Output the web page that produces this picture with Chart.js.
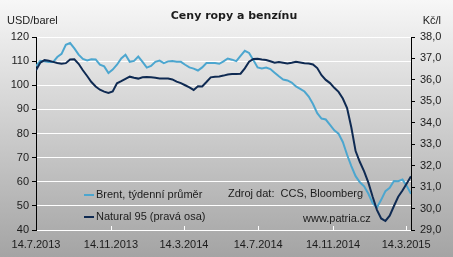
<!DOCTYPE html>
<html>
<head>
<meta charset="utf-8">
<script src="https://cdn.jsdelivr.net/npm/chart.js@4.4.0/dist/chart.umd.min.js"></script>
<style>
  html, body { margin: 0; padding: 0; background: #d0d0d0; }
  #oilChart { display: block; background: linear-gradient(#f7f7f7, #a4a4a4); }
</style>
</head>
<body>
<canvas id="oilChart" width="453" height="257"></canvas>
<script>
// weekly values, first week = 14.7.2013
const brent = [
  107.9, 110.1, 109.9, 109.6, 109.6, 111.7, 113.0, 116.8, 117.5, 115.3,
  112.7, 110.9, 110.3, 110.8, 110.7, 108.5, 107.8, 105.1, 106.5, 108.5,
  111.1, 112.6, 109.7, 110.1, 111.9, 109.7, 107.3, 108.0, 109.7, 110.2,
  109.2, 109.9, 110.0, 109.7, 109.7, 108.5, 107.4, 106.9, 106.1, 107.4,
  109.2, 109.2, 109.2, 108.9, 109.9, 111.1, 110.6, 110.0, 112.2, 114.3,
  113.4, 110.5, 107.4, 107.0, 107.3, 106.7, 105.2, 103.7, 102.4, 102.0,
  101.1, 99.5, 98.5, 97.4, 95.3, 92.2, 88.4, 86.2, 85.8, 83.6,
  81.3, 79.9, 76.5, 71.2, 66.5, 62.3, 59.8, 58.1, 55.0, 51.1,
  49.3, 52.5, 56.1, 57.5, 60.3, 60.2, 60.9, 58.2, 55.0
];
const natural95 = [
  36.45, 36.80, 36.92, 36.89, 36.84, 36.79, 36.75, 36.78, 36.95, 36.96,
  36.75, 36.45, 36.18, 35.90, 35.69, 35.54, 35.45, 35.39, 35.46, 35.84,
  35.94, 36.05, 36.15, 36.10, 36.06, 36.12, 36.14, 36.12, 36.10, 36.07,
  36.06, 36.06, 36.02, 35.92, 35.85, 35.75, 35.65, 35.53, 35.70, 35.69,
  35.90, 36.12, 36.15, 36.16, 36.20, 36.25, 36.27, 36.28, 36.29, 36.54,
  36.85, 36.97, 36.98, 36.95, 36.93, 36.87, 36.80, 36.83, 36.80, 36.77,
  36.80, 36.84, 36.81, 36.78, 36.76, 36.72, 36.55, 36.22, 36.00, 35.85,
  35.63, 35.44, 35.13, 34.69, 33.78, 32.68, 32.17, 31.73, 31.21, 30.55,
  29.94, 29.54, 29.42, 29.67, 30.12, 30.55, 30.84, 31.17, 31.50
];
// days since 14.7.2013
const tickDays = [0, 123, 243, 365, 488, 608];
const tickLabels = ['14.7.2013', '14.11.2013', '14.3.2014', '14.7.2014', '14.11.2014', '14.3.2015'];

const toPoints = (arr) => arr.map((v, i) => ({ x: i * 7, y: v }));

const FONT = '"Liberation Sans", Arial, sans-serif';
const TEXT = '#1c1c1c';

const extras = {
  id: 'extras',
  afterDraw(chart) {
    const ctx = chart.ctx;
    const area = chart.chartArea;
    const xScale = chart.scales.x;
    ctx.save();

    // small white ticks on the time axis, pointing up
    ctx.strokeStyle = '#ffffff';
    ctx.lineWidth = 1;
    xScale.ticks.forEach((t, i) => {
      if (i === 0) return;
      const px = Math.round(xScale.getPixelForValue(t.value)) + 0.5;
      ctx.beginPath();
      ctx.moveTo(px, area.bottom);
      ctx.lineTo(px, area.bottom - 4);
      ctx.stroke();
    });

    ctx.fillStyle = TEXT;
    ctx.textBaseline = 'middle';
    ctx.font = 'bold 11px "DejaVu Sans", Verdana, sans-serif';
    ctx.textAlign = 'center';
    ctx.fillText('Ceny ropy a benzínu', 234, 16);

    ctx.font = '11px ' + FONT;
    ctx.textAlign = 'left';
    ctx.fillText('USD/barel', 7, 21);
    ctx.textAlign = 'right';
    ctx.fillText('Kč/l', 441, 21);

    // legend
    ctx.textAlign = 'left';
    const rows = [195, 217];
    chart.data.datasets.forEach((ds) => {
      const y = rows[ds.legendRow];
      ctx.strokeStyle = ds.borderColor;
      ctx.lineWidth = 2;
      ctx.beginPath();
      ctx.moveTo(84, y);
      ctx.lineTo(94, y);
      ctx.stroke();
      ctx.fillText(ds.label, 96, y);
    });

    ctx.fillText('Zdroj dat:  CCS, Bloomberg', 228, 194);
    ctx.fillText('www.patria.cz', 303, 219);
    ctx.restore();
  }
};

new Chart(document.getElementById('oilChart'), {
  type: 'line',
  data: {
    datasets: [
      {
        label: 'Natural 95 (pravá osa)',
        data: toPoints(natural95),
        yAxisID: 'yRight',
        borderColor: '#0f2a52',
        borderWidth: 2,
        pointRadius: 0,
        legendRow: 1,
        order: 1
      },
      {
        label: 'Brent, týdenní průměr',
        data: toPoints(brent),
        yAxisID: 'yLeft',
        borderColor: '#4ca6cf',
        borderWidth: 2,
        pointRadius: 0,
        legendRow: 0,
        order: 2
      }
    ]
  },
  options: {
    responsive: false,
    animation: false,
    layout: { padding: { top: 37, left: 0, right: 0, bottom: 0 } },
    plugins: {
      legend: { display: false },
      tooltip: { enabled: false }
    },
    scales: {
      x: {
        type: 'linear',
        min: 0,
        max: 616,
        afterBuildTicks: (scale) => { scale.ticks = tickDays.map(v => ({ value: v })); },
        afterFit: (scale) => { scale.height = 27; },
        ticks: {
          callback: (v) => tickLabels[tickDays.indexOf(v)],
          color: TEXT,
          font: { family: FONT, size: 11 },
          padding: 8,
          maxRotation: 0,
          autoSkip: false
        },
        grid: { display: false, drawTicks: false },
        border: { color: '#ffffff' }
      },
      yLeft: {
        position: 'left',
        min: 40,
        max: 120,
        afterFit: (scale) => { scale.width = 36; },
        ticks: { stepSize: 10, color: TEXT, font: { family: FONT, size: 11 }, padding: 3 },
        grid: { color: '#ffffff', tickColor: '#000000', tickLength: 4, lineWidth: 1 },
        border: { color: '#000000' }
      },
      yRight: {
        position: 'right',
        min: 29,
        max: 38,
        afterFit: (scale) => { scale.width = 42; },
        ticks: {
          stepSize: 1,
          color: TEXT,
          font: { family: FONT, size: 11 },
          padding: 5,
          callback: (v) => v.toFixed(1).replace('.', ',')
        },
        grid: { drawOnChartArea: false, tickColor: '#000000', tickLength: 4 },
        border: { color: '#000000' }
      }
    }
  },
  plugins: [extras]
});
</script>
</body>
</html>
